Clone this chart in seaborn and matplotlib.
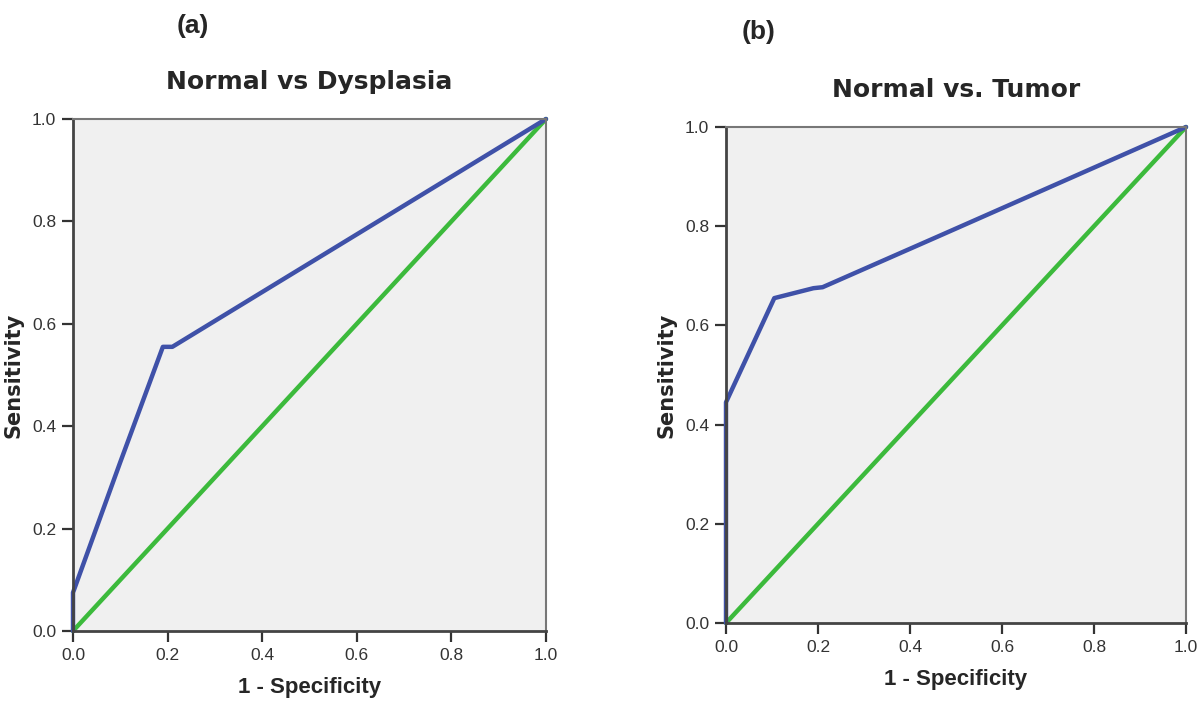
import numpy as np
import pandas as pd
import matplotlib.pyplot as plt
import seaborn as sns

# ROC curve points
dys_fpr = [0.0, 0.0, 0.10, 0.19, 0.21, 1.0]
dys_tpr = [0.0, 0.075, 0.33, 0.555, 0.555, 1.0]

tum_fpr = [0.0, 0.0, 0.105, 0.19, 0.21, 0.47, 1.0]
tum_tpr = [0.0, 0.445, 0.655, 0.675, 0.677, 0.783, 1.0]

ref_line = [0.0, 1.0]
ticks = [0.0, 0.2, 0.4, 0.6, 0.8, 1.0]
tick_labels = ['0.0', '0.2', '0.4', '0.6', '0.8', '1.0']

panels = ['(a)', '(b)']
titles = ['Normal vs Dysplasia', 'Normal vs. Tumor']

sns.set_style('ticks')
plt.rcParams['font.family'] = ['Liberation Sans', 'DejaVu Sans']

BLUE = '#3f51a8'
GREEN = '#3cba3c'
BG = '#f0f0f0'

fig = plt.figure(figsize=(12, 7.09), dpi=100)
W, H = 1200, 709

# axes boxes in pixel coords: left, top, right, bottom
boxes = [(73, 119, 546, 631), (726, 127, 1186, 623)]
curves = [(dys_fpr, dys_tpr), (tum_fpr, tum_tpr)]

for i, (box, (fx, ty)) in enumerate(zip(boxes, curves)):
    l, t, r, b = box
    ax = fig.add_axes([l / W, 1 - b / H, (r - l) / W, (b - t) / H])
    ax.set_facecolor(BG)
    sns.lineplot(x=ref_line, y=ref_line, ax=ax, color=GREEN, lw=3.2, sort=False)
    df = pd.DataFrame({'fpr': fx, 'tpr': ty})
    sns.lineplot(data=df, x='fpr', y='tpr', ax=ax, color=BLUE, lw=3.2,
                 sort=False, estimator=None)
    ax.set_xlim(0, 1)
    ax.set_ylim(0, 1)
    ax.set_xticks(ticks)
    ax.set_yticks(ticks)
    ax.set_xticklabels(tick_labels)
    ax.set_yticklabels(tick_labels)
    ax.tick_params(length=8, width=1.6, color='#333333', labelsize=12.5,
                   labelcolor='#333333', pad=4)
    for side in ['left', 'bottom']:
        ax.spines[side].set_color('#444444')
        ax.spines[side].set_linewidth(2)
    for side in ['top', 'right']:
        ax.spines[side].set_visible(True)
        ax.spines[side].set_color('#777777')
        ax.spines[side].set_linewidth(1.5)
    ax.set_xlabel('1 - Specificity', fontsize=16, fontweight='bold', labelpad=10)
    ax.set_ylabel('Sensitivity', fontsize=15, fontweight='bold',
                  family=['DejaVu Sans'], labelpad=6)
    for line in ax.lines:
        line.set_clip_on(False)

    cx = (l + r) / 2
    fig.text(cx / W, 1 - (82 if i == 0 else 90) / H, titles[i], ha='center',
             va='center', fontsize=18, fontweight='bold',
             family=['DejaVu Sans'])

fig.text(193 / W, 1 - 26 / H, panels[0], ha='center', va='center',
         fontsize=19, fontweight='bold')
fig.text(759 / W, 1 - 32 / H, panels[1], ha='center', va='center',
         fontsize=19, fontweight='bold')

fig.savefig('out.png', dpi=100, facecolor='white')
